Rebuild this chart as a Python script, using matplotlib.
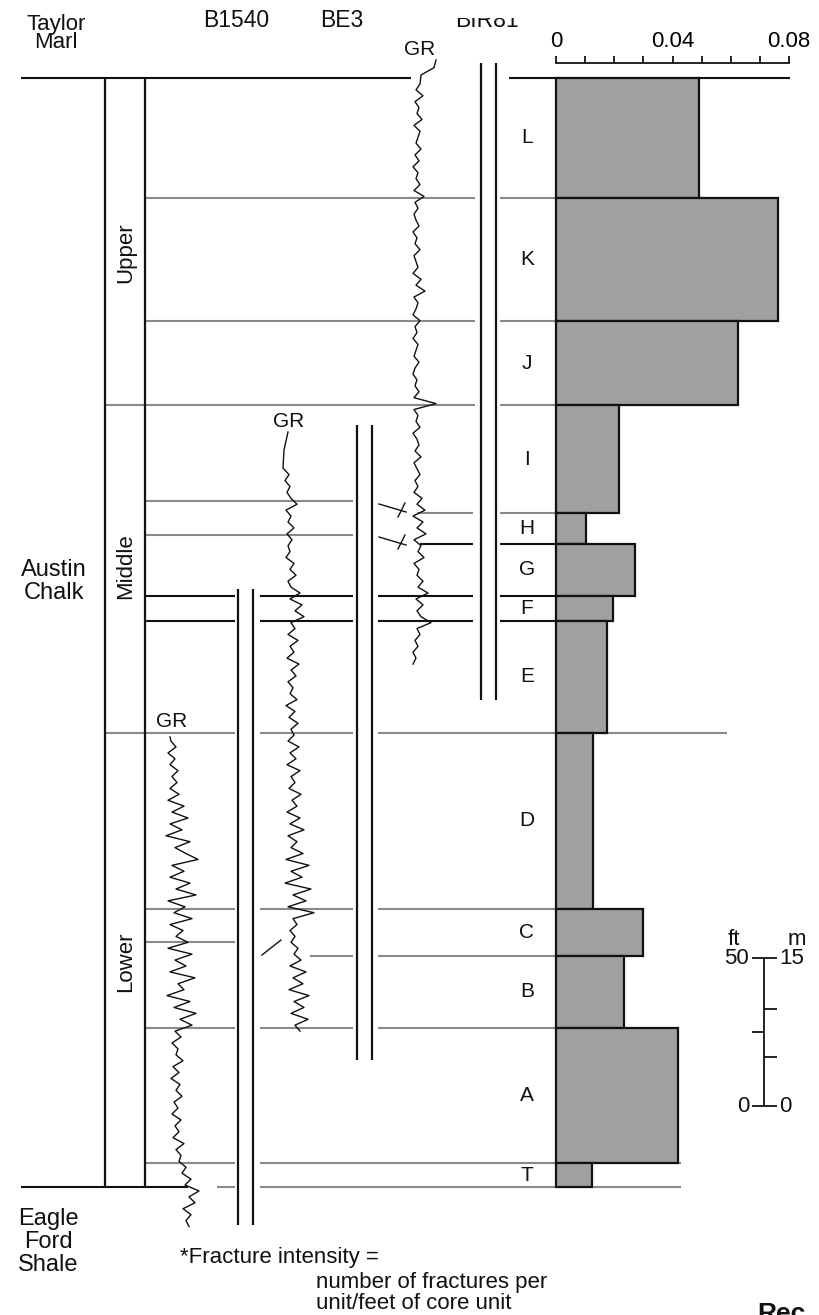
import matplotlib
matplotlib.use("Agg")
import matplotlib.pyplot as plt
from matplotlib.patches import Rectangle
from matplotlib.ticker import MultipleLocator

plt.rcParams['font.family'] = ['Liberation Sans', 'DejaVu Sans']

# ---------------- data ----------------
UNITS = ['L', 'K', 'J', 'I', 'H', 'G', 'F', 'E', 'D', 'C', 'B', 'A', 'T']
UNIT_TOP_FT = [0.0, 40.5, 82.1, 110.5, 147.0, 157.4, 175.0, 183.4, 221.3, 280.7, 296.6, 320.9, 366.6]
UNIT_BASE_FT = 374.7
INTENSITY = [0.049, 0.0762, 0.0625, 0.0217, 0.0103, 0.0272, 0.0197, 0.0176, 0.0128, 0.0300, 0.0234, 0.0420, 0.0122]
XTICKS = [0, 0.04, 0.08]
XTICK_LABELS = ['0', '0.04', '0.08']

WELLS = ['B1540', 'BE3', 'BIR81']

# GR logs: x-position in track (px) sampled every 2 ft
BIR81_HEAD_FT = [-6.1, -3.5, -1.0]
BIR81_HEAD_X = [436, 434, 421]
BIR81_START_FT = 2
BIR81_GR = [420, 416, 423, 415, 419, 417, 422, 414, 420, 418, 416, 421, 415, 419, 413, 418, 416, 420, 414, 424,
            415, 418, 414, 416, 419, 413, 417, 415, 420, 414, 416, 418, 413, 421, 416, 425, 414, 418, 416, 413, 420,
            415, 417, 413, 418, 416, 414, 419, 415, 413, 417, 415, 419, 414, 436,
            414, 418, 416, 420, 413, 417, 419, 415, 421, 414, 417, 420, 415, 418, 414, 422, 417, 425,
            413, 423, 417, 426, 414, 421, 418, 424, 414, 419, 417, 423, 418, 428,
            416, 423, 417, 421, 431, 417, 420, 415, 418, 413, 416, 413]

BE3_HEAD_FT = [119.6, 125.7, 131.8]
BE3_HEAD_X = [288, 284, 283]
BE3_START_FT = 134
BE3_GR = [289, 285, 290, 287, 291,
          297,
          286, 291, 288, 294, 287,
          292, 288, 290, 286, 294, 290, 296, 288, 291,
          300, 290, 302, 295, 304, 291,
          295, 288, 298, 290, 294, 287, 299, 291, 296, 288, 293, 290, 297, 286, 295, 289, 298, 291,
          294, 288, 299, 290, 296, 287, 300, 291, 295, 289, 301, 292, 297, 287, 300, 290, 304, 288, 297, 291,
          303, 286, 309, 291, 302, 285, 311, 293, 306, 288, 314,
          293, 297, 290, 295, 291, 298, 294,
          301, 290, 306, 293, 303, 289, 309, 294, 304, 291, 308, 295, 300]

B1540_HEAD_FT = [222.6]
B1540_HEAD_X = [170]
B1540_START_FT = 224
B1540_GR = [171, 176, 168, 175, 170, 178, 172, 177, 170,
            179, 168, 184, 172, 188, 170, 182, 166, 190, 175, 186, 198, 172,
            184, 170, 190, 176, 196, 168, 185, 174, 192, 170, 183, 176,
            188, 168, 192, 175, 186, 170, 195, 178, 184, 167, 190, 174, 196, 180, 192,
            175, 181, 172, 178, 176, 183, 173, 179, 171, 180, 176, 182, 174, 178, 172, 181, 175, 179, 173, 184, 176, 181,
            179, 186, 182, 191, 185, 199, 189, 195, 183, 191, 186, 189]

SCALE_FT = 50
SCALE_M = 15
SCALE_M_TICKS = [5, 10]
SCALE_FT_TICKS = [25]
FT_PER_M = 3.2808

# ---------------- layout ----------------
W, H = 819, 1315
PX_PER_FT = 2.96
TOP_PX = 78


def ft(ypx):
    return (ypx - TOP_PX) / PX_PER_FT


GREY = '#8a8a8a'
BLACK = '#111111'

fig = plt.figure(figsize=(W / 100, H / 100), dpi=100)
bg = fig.add_axes([0, 0, 1, 1])
bg.set_xlim(0, W)
bg.set_ylim(ft(H), ft(0))
bg.axis('off')

# bar axes (fracture intensity)
x0, x1 = 556, 789
axb = fig.add_axes([x0 / W, 0, (x1 - x0) / W, 1])
axb.set_xlim(0, 0.08)
axb.set_ylim(ft(H), ft(0))
axb.patch.set_visible(False)
bases = UNIT_TOP_FT[1:] + [UNIT_BASE_FT]
thick = [b - t for t, b in zip(UNIT_TOP_FT, bases)]
bars = axb.barh(UNIT_TOP_FT, INTENSITY, height=thick, left=0, align='edge',
                color='#a0a0a0', edgecolor=BLACK, linewidth=1.6, zorder=3)
for p in bars:
    p.set_clip_on(False)
for s in ['left', 'right', 'bottom']:
    axb.spines[s].set_visible(False)
axb.spines['top'].set_position(('data', ft(63)))
axb.spines['top'].set_linewidth(1.2)
axb.xaxis.set_ticks_position('top')
axb.set_xticks(XTICKS)
axb.set_xticklabels(XTICK_LABELS)
axb.xaxis.set_minor_locator(MultipleLocator(0.01))
axb.tick_params(which='both', direction='out', length=5, width=1.2, pad=3,
                labelsize=16, top=True, bottom=False, labeltop=True, labelbottom=False)
axb.set_yticks([])

# unit boundary lines
u = dict(zip(UNITS, UNIT_TOP_FT))
segments = [
    (u['L'], [(21, 411), (509, 790)], BLACK),
    (u['K'], [(145, 475), (500, 556)], GREY),
    (u['J'], [(145, 475), (500, 556)], GREY),
    (u['I'], [(105, 475), (500, 556)], GREY),
    (ft(501), [(145, 353)], GREY),
    (u['H'], [(417, 473), (500, 556)], GREY),
    (ft(535), [(145, 353)], GREY),
    (u['G'], [(420, 473), (500, 556)], BLACK),
    (u['F'], [(145, 235), (260, 353), (378, 473), (500, 556)], BLACK),
    (u['E'], [(145, 235), (260, 353), (378, 473), (500, 556)], BLACK),
    (u['D'], [(105, 235), (260, 353), (378, 727)], GREY),
    (u['C'], [(145, 235), (260, 353), (378, 556)], GREY),
    (ft(942), [(145, 235)], GREY),
    (u['B'], [(310, 353), (378, 556)], GREY),
    (u['A'], [(145, 235), (260, 353), (378, 556)], GREY),
    (u['T'], [(145, 235), (260, 681)], GREY),
    (UNIT_BASE_FT, [(21, 188)], BLACK),
    (UNIT_BASE_FT, [(217, 235), (260, 681)], GREY),
]
for y, segs, c in segments:
    for a, b in segs:
        bg.plot([a, b], [y, y], color=c, lw=1.5, solid_capstyle='butt', zorder=1)

# stratigraphic column
bg.vlines([105, 145], u['L'], UNIT_BASE_FT, color=BLACK, lw=1.6, zorder=2)

# core double lines
for (xa, xb), (ya, yb) in zip([(238, 253), (357, 372), (481, 496)],
                              [(589, 1225), (425, 1060), (63, 700)]):
    bg.vlines([xa, xb], ft(ya), ft(yb), color=BLACK, lw=1.6, zorder=2)


# GR curves
def gr(head_ft, head_x, start, vals):
    ys = list(head_ft) + [start + 2 * i for i in range(len(vals))]
    xs = list(head_x) + list(vals)
    bg.plot(xs, ys, color=BLACK, lw=1.0, zorder=4)


gr(BIR81_HEAD_FT, BIR81_HEAD_X, BIR81_START_FT, BIR81_GR)
gr(BE3_HEAD_FT, BE3_HEAD_X, BE3_START_FT, BE3_GR)
gr(B1540_HEAD_FT, B1540_HEAD_X, B1540_START_FT, B1540_GR)

# small correlation slashes
for (xa, ya, xb, yb) in [(379, 504, 406, 512), (398, 517, 405, 503),
                         (379, 537, 406, 545), (398, 549, 405, 535),
                         (262, 955, 281, 940)]:
    bg.plot([xa, xb], [ft(ya), ft(yb)], color=BLACK, lw=1.0, zorder=4)

# texts
tk = dict(color=BLACK)
bg.text(56, ft(30), 'Taylor', ha='center', va='baseline', fontsize=16, **tk)
bg.text(56, ft(48), 'Marl', ha='center', va='baseline', fontsize=16, **tk)
for name, xc in zip(WELLS, [236, 342, 487]):
    bg.text(xc, ft(27), name, ha='center', va='baseline', fontsize=16.5, **tk)
bg.add_patch(Rectangle((440, ft(18)), 95, ft(0) - ft(18), facecolor='white', edgecolor='none', zorder=5))
bg.text(420, ft(55), 'GR', ha='center', va='baseline', fontsize=15, **tk)
bg.text(289, ft(427), 'GR', ha='center', va='baseline', fontsize=15, **tk)
bg.text(172, ft(727), 'GR', ha='center', va='baseline', fontsize=15, **tk)
bg.text(54, ft(576), 'Austin', ha='center', va='baseline', fontsize=17, **tk)
bg.text(54, ft(599), 'Chalk', ha='center', va='baseline', fontsize=17, **tk)
bg.text(126, ft(253), 'Upper', ha='center', va='center', rotation=90, fontsize=16, **tk)
bg.text(126, ft(566), 'Middle', ha='center', va='center', rotation=90, fontsize=16, **tk)
bg.text(126, ft(962), 'Lower', ha='center', va='center', rotation=90, fontsize=16, **tk)
for name, t, b in zip(UNITS, UNIT_TOP_FT, bases):
    bg.text(527, (t + b) / 2, name, ha='center', va='center', fontsize=15, **tk)
bg.text(48, ft(1225), 'Eagle', ha='center', va='baseline', fontsize=17, **tk)
bg.text(48, ft(1248), 'Ford', ha='center', va='baseline', fontsize=17, **tk)
bg.text(48, ft(1271), 'Shale', ha='center', va='baseline', fontsize=17, **tk)
bg.text(180, ft(1263), '*Fracture intensity =', ha='left', va='baseline', fontsize=16, **tk)
bg.text(316, ft(1288), 'number of fractures per', ha='left', va='baseline', fontsize=16, **tk)
bg.text(316, ft(1309), 'unit/feet of core unit', ha='left', va='baseline', fontsize=16, **tk)
bg.text(757, ft(1302), 'Rec', ha='left', va='top', fontsize=19, fontweight='bold', **tk)

# scale bar
zero = ft(1106)
sx = 764
bg.vlines(sx, zero - SCALE_FT, zero, color=BLACK, lw=1.3)
bg.hlines([zero - SCALE_FT, zero], 752, 777, color=BLACK, lw=1.3)
bg.hlines([zero - m * FT_PER_M for m in SCALE_M_TICKS], sx, 777, color=BLACK, lw=1.3)
bg.hlines([zero - f for f in SCALE_FT_TICKS], 752, sx, color=BLACK, lw=1.3)
bg.text(749, zero - SCALE_FT, str(SCALE_FT), ha='right', va='center', fontsize=16, **tk)
bg.text(779, zero - SCALE_FT, str(SCALE_M), ha='left', va='center', fontsize=16, **tk)
bg.text(750, zero, '0', ha='right', va='center', fontsize=16, **tk)
bg.text(779, zero, '0', ha='left', va='center', fontsize=16, **tk)
bg.text(734, zero - SCALE_FT - 4.5, 'ft', ha='center', va='baseline', fontsize=16, **tk)
bg.text(797, zero - SCALE_FT - 4.5, 'm', ha='center', va='baseline', fontsize=16, **tk)

fig.savefig('out.png', dpi=100)
